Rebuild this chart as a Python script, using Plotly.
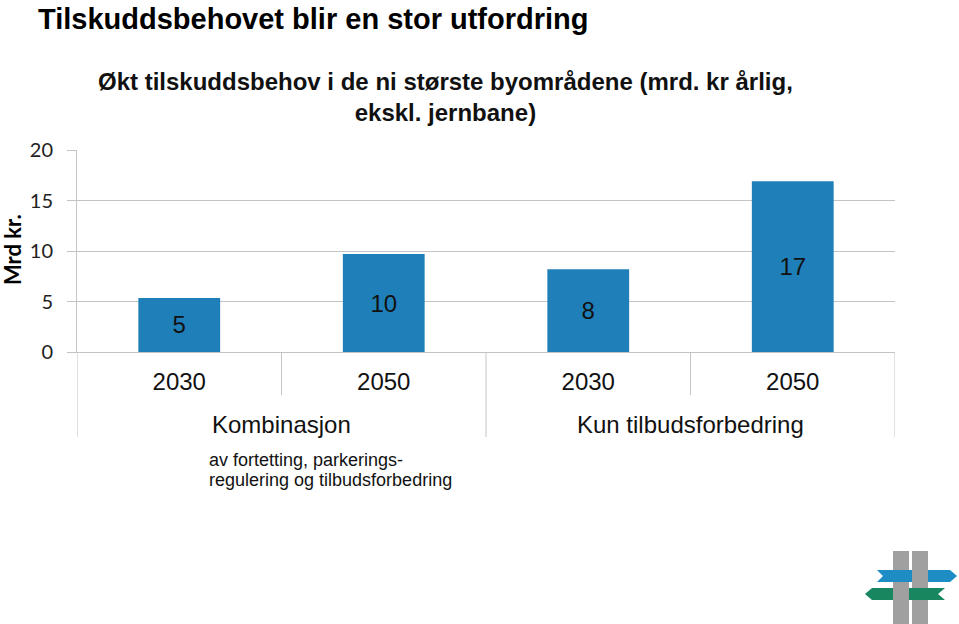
import plotly.graph_objects as go

# data
group_names = ["Kombinasjon", "Kun tilbudsforbedring"]
groups = ["Kombinasjon", "Kombinasjon", "Kun tilbudsforbedring", "Kun tilbudsforbedring"]
years = ["2030", "2050", "2030", "2050"]
values = [5.35, 9.7, 8.2, 16.9]
y_ticks = [0, 5, 10, 15, 20]
note_lines = ["av fortetting, parkerings-", "regulering og tilbudsforbedring"]

BAR_COLOR = "#1f80b9"
GRID = "#c4c4c4"
TEXT = "#111111"

W, H = 959, 624
PLOT_L, PLOT_R, PLOT_T, PLOT_B = 77, 895, 150, 352


def _px(x):
    return (x - PLOT_L) / (PLOT_R - PLOT_L)


def _py(y):
    return (PLOT_B - y) / (PLOT_B - PLOT_T)


def _pixel_path(points):
    """polygon in screen pixels, as offsets from the plot's lower-left corner."""
    parts = []
    for i, (sx, sy) in enumerate(points):
        parts.append(("M" if i == 0 else "L") + f"{sx - PLOT_L},{PLOT_B - sy}")
    return " ".join(parts) + " Z"


def _logo_shape(points, color):
    return dict(
        type="path",
        xref="paper", yref="paper",
        xsizemode="pixel", ysizemode="pixel",
        xanchor=0, yanchor=0,
        path=_pixel_path(points),
        fillcolor=color,
        line={"width": 0},
        layer="above",
    )


def _rect(x0, y0, x1, y1):
    return [(x0, y0), (x1, y0), (x1, y1), (x0, y1)]


positions = list(range(len(years)))

fig = go.Figure()
fig.add_trace(
    go.Bar(
        x=positions,
        y=values,
        width=0.4,
        marker={"color": BAR_COLOR, "line": {"width": 0}},
        texttemplate="%{y:.0f}",
        textposition="inside",
        insidetextanchor="middle",
        textfont={"family": "Arial", "size": 24, "color": TEXT},
        hoverinfo="skip",
    )
)

# category dividers below the axis: short ones between years, long ones between groups
shapes = []
short_len = -(395 - PLOT_B) / (PLOT_B - PLOT_T)
long_len = -(437 - PLOT_B) / (PLOT_B - PLOT_T)
for i in range(len(years) + 1):
    boundary = i - 0.5
    is_group_edge = i == 0 or i == len(years) or groups[i] != groups[i - 1]
    shapes.append(
        dict(
            type="line",
            xref="x", yref="paper",
            x0=boundary, x1=boundary,
            y0=0, y1=long_len if is_group_edge else short_len,
            line={"color": GRID, "width": 1},
        )
    )

gray, blue, green = "#a0a0a0", "#1e8cc5", "#18875f"
shapes += [
    _logo_shape(_rect(893, 551, 909, 624), gray),
    _logo_shape([(877, 570), (950, 570), (957, 576), (950, 582), (877, 582), (883, 576)], blue),
    _logo_shape(_rect(912, 551, 928, 624), gray),
    _logo_shape([(872, 588), (945, 588), (938, 594), (945, 600), (872, 600), (865, 594)], green),
    _logo_shape(_rect(893, 586, 909, 602), gray),
]

annotations = [
    dict(
        text="<b>Økt tilskuddsbehov i de ni største byområdene (mrd. kr årlig,<br>ekskl. jernbane)</b>",
        xref="paper", yref="paper",
        x=_px(445), y=_py(97),
        xanchor="center", yanchor="middle",
        showarrow=False,
        font={"family": "Arial", "size": 24, "color": TEXT},
    ),
    dict(
        text="<b>Mrd kr.</b>",
        xref="paper", yref="paper",
        x=_px(12), y=_py(250),
        xanchor="center", yanchor="middle",
        textangle=-90,
        showarrow=False,
        font={"family": "Lato", "size": 22, "color": "#000000"},
    ),
]
for name in group_names:
    idx = [i for i, g in enumerate(groups) if g == name]
    annotations.append(
        dict(
            text=name,
            xref="x", yref="paper",
            x=sum(idx) / len(idx), y=_py(424),
            xanchor="center", yanchor="middle",
            showarrow=False,
            font={"family": "Arial", "size": 24, "color": TEXT},
        )
    )
for line, y_center in zip(note_lines, [460, 480]):
    annotations.append(
        dict(
            text=line,
            xref="paper", yref="paper",
            x=_px(207), y=_py(y_center),
            xanchor="left", yanchor="middle",
            showarrow=False,
            font={"family": "Arial", "size": 18, "color": TEXT},
        )
    )

fig.update_layout(
    width=W,
    height=H,
    paper_bgcolor="white",
    plot_bgcolor="white",
    margin={"l": PLOT_L, "r": W - PLOT_R, "t": PLOT_T, "b": H - PLOT_B, "pad": 0},
    showlegend=False,
    font={"family": "Arial", "color": TEXT},
    title={
        "text": "<b>Tilskuddsbehovet blir en stor utfordring</b>",
        "x": 38 / W,
        "xref": "container",
        "xanchor": "left",
        "y": 1 - 19 / H,
        "yref": "container",
        "yanchor": "middle",
        "font": {"family": "Arial", "size": 29, "color": "#000000"},
    },
    xaxis={
        "range": [-0.5, len(years) - 0.5],
        "tickvals": positions,
        "ticktext": years,
        "showgrid": False,
        "zeroline": False,
        "showline": True,
        "linecolor": GRID,
        "ticks": "",
        "ticklabelstandoff": 8,
        "automargin": False,
        "tickfont": {"family": "Arial", "size": 24, "color": TEXT},
    },
    yaxis={
        "range": [0, 20],
        "tickvals": y_ticks,
        "showgrid": True,
        "gridcolor": GRID,
        "showline": True,
        "linecolor": GRID,
        "ticks": "outside",
        "ticklen": 9,
        "tickcolor": GRID,
        "ticklabelstandoff": 10,
        "zeroline": False,
        "automargin": False,
        "tickfont": {"family": "Lato", "size": 20, "color": "#222222"},
    },
    shapes=shapes,
    annotations=annotations,
)

# drop the browser's default body margin so the figure sits at the page corner
fig.write_html(
    "out.html",
    config={"displayModeBar": False},
    post_script="document.body.style.margin = '0';",
)
